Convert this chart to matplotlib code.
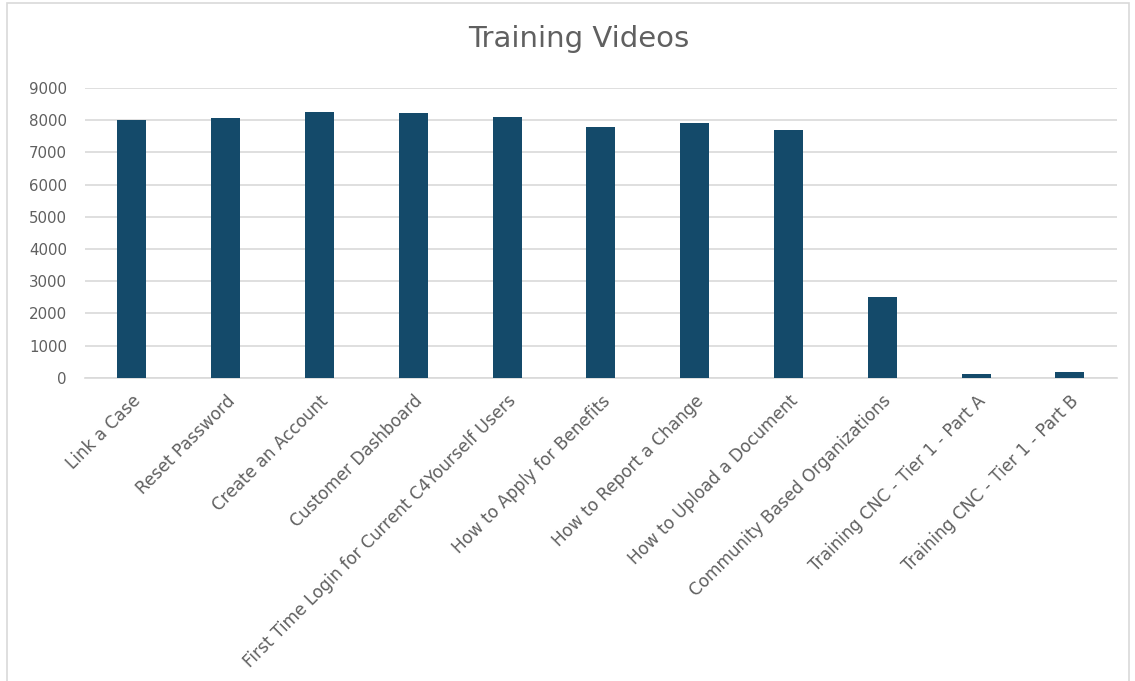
import matplotlib.pyplot as plt
from matplotlib.patches import Rectangle

# === DATA ===
videos = [
    "Link a Case",
    "Reset Password",
    "Create an Account",
    "Customer Dashboard",
    "First Time Login for Current C4Yourself Users",
    "How to Apply for Benefits",
    "How to Report a Change",
    "How to Upload a Document",
    "Community Based Organizations",
    "Training CNC - Tier 1 - Part A",
    "Training CNC - Tier 1 - Part B",
]
views = [8000, 8060, 8260, 8230, 8090, 7790, 7895, 7700, 2500, 115, 185]
y_ticks = [0, 1000, 2000, 3000, 4000, 5000, 6000, 7000, 8000, 9000]

BAR_COLOR = "#144a6a"
GRID_COLOR = "#d9d9d9"
TEXT_COLOR = "#606060"

plt.rcParams["font.family"] = ["DejaVu Sans"]

fig = plt.figure(figsize=(11.35, 6.81), dpi=100)
ax = fig.add_axes([0.0749, 0.445, 0.909, 0.426])

x = range(len(videos))
ax.bar(x, views, width=0.31, color=BAR_COLOR, zorder=3)

ax.set_xlim(-0.5, len(videos) - 0.5)
ax.set_ylim(0, 9000)
ax.set_yticks(y_ticks)
ax.set_yticklabels([str(v) for v in y_ticks], fontsize=10.8, color=TEXT_COLOR)
ax.set_xticks(list(x))
ax.set_xticklabels(videos, rotation=45, ha="right", va="top",
                   rotation_mode="anchor", fontsize=12.2, color=TEXT_COLOR)

ax.grid(axis="y", color=GRID_COLOR, linewidth=1.2, zorder=0)
for side in ["top", "right", "left"]:
    ax.spines[side].set_visible(False)
ax.spines["bottom"].set_color(GRID_COLOR)
ax.spines["bottom"].set_linewidth(1.2)
ax.tick_params(axis="both", length=0)
ax.tick_params(axis="x", pad=10)
ax.tick_params(axis="y", pad=13)

fig.text(0.51, 0.943, "Training Videos", ha="center", va="center",
         fontsize=21, color=TEXT_COLOR)

# chart border
fig.patches.append(Rectangle((0.006, -0.05), 0.989, 1.045, transform=fig.transFigure,
                             fill=False, edgecolor=GRID_COLOR, linewidth=1.2))

fig.savefig("out.png", dpi=100, facecolor="white")
